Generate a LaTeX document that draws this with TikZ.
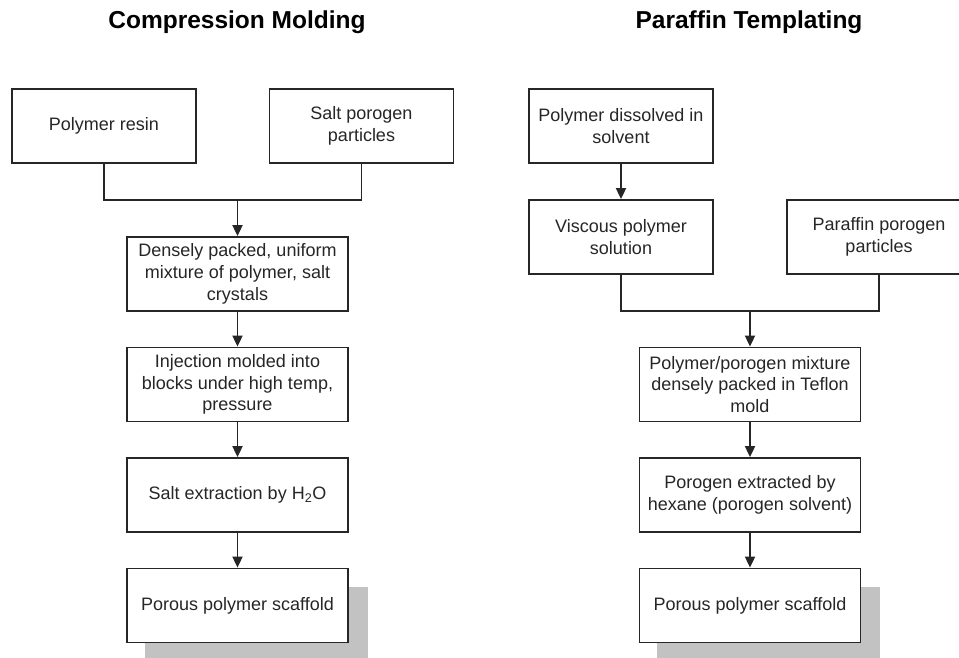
\documentclass[tikz,border=0pt]{standalone}
\usepackage{fontspec}
\setmainfont{Liberation Sans}
\usetikzlibrary{arrows.meta}
\definecolor{ink}{HTML}{262626}
\definecolor{shade}{HTML}{C2C2C2}
\tikzset{
  box/.style={draw=ink, line width=1.8pt, fill=white, align=center, text=ink,
    inner sep=2pt, font=\fontsize{18}{21.7}\selectfont},
  smallbox/.style={box, minimum width=184pt, minimum height=74pt},
  widebox/.style={box, minimum width=221pt, minimum height=74pt},
  title/.style={font=\fontsize{24.5}{28}\selectfont\bfseries, text=black},
  link/.style={draw=ink, line width=1.8pt},
  arrowlink/.style={link, -{Triangle[length=11pt,width=10pt]}},
  shadowbox/.style={fill=shade, draw=none}
}
\begin{document}
\begin{tikzpicture}[x=1pt,y=-1pt]
\useasboundingbox (0,0) rectangle (959,657);
\clip (0,0) rectangle (959,657);
% titles
\node[title] (t1) at (237,22) {Compression Molding};
\node[title] (t2) at (749,22) {Paraffin Templating};
% shadows
\fill[shadowbox] (145,587) rectangle (368,662);
\fill[shadowbox] (657,587) rectangle (880,662);
% left column
\node[smallbox] (pr) at (104,126) {Polymer resin};
\node[smallbox] (sp) at (361.5,126) {Salt porogen\\particles};
\node[widebox] (dp) at (237.5,274) {Densely packed, uniform\\mixture of polymer, salt\\crystals};
\node[widebox] (inj) at (237.5,384.5) {Injection molded into\\blocks under high temp,\\pressure};
\node[widebox] (se) at (237.5,495) {Salt extraction by H\textsubscript{2}O};
\node[widebox] (ps1) at (237.5,605.5) {Porous polymer scaffold};
\coordinate (j1l) at (104,200);
\coordinate (j1r) at (361.5,200);
\coordinate (j1) at (237.5,200);
\draw[link] (pr.south) -- (j1l) -- (j1r) -- (sp.south);
\draw[arrowlink] (j1) -- (dp.north);
\draw[arrowlink] (dp.south) -- (inj.north);
\draw[arrowlink] (inj.south) -- (se.north);
\draw[arrowlink] (se.south) -- (ps1.north);
% right column
\node[smallbox] (pd) at (621,126) {Polymer dissolved in\\solvent};
\node[smallbox] (vp) at (621,237) {Viscous polymer\\solution};
\node[smallbox] (pp) at (879,237) {Paraffin porogen\\particles};
\node[widebox] (pm) at (750,384.5) {Polymer/porogen mixture\\densely packed in Teflon\\mold};
\node[widebox] (pe) at (750,495) {Porogen extracted by\\hexane (porogen solvent)};
\node[widebox] (ps2) at (750,605.5) {Porous polymer scaffold};
\draw[arrowlink] (pd.south) -- (vp.north);
\coordinate (j2l) at (621,311);
\coordinate (j2r) at (879,311);
\coordinate (j2) at (750,311);
\draw[link] (vp.south) -- (j2l) -- (j2r) -- (pp.south);
\draw[arrowlink] (j2) -- (pm.north);
\draw[arrowlink] (pm.south) -- (pe.north);
\draw[arrowlink] (pe.south) -- (ps2.north);
\end{tikzpicture}
\end{document}
